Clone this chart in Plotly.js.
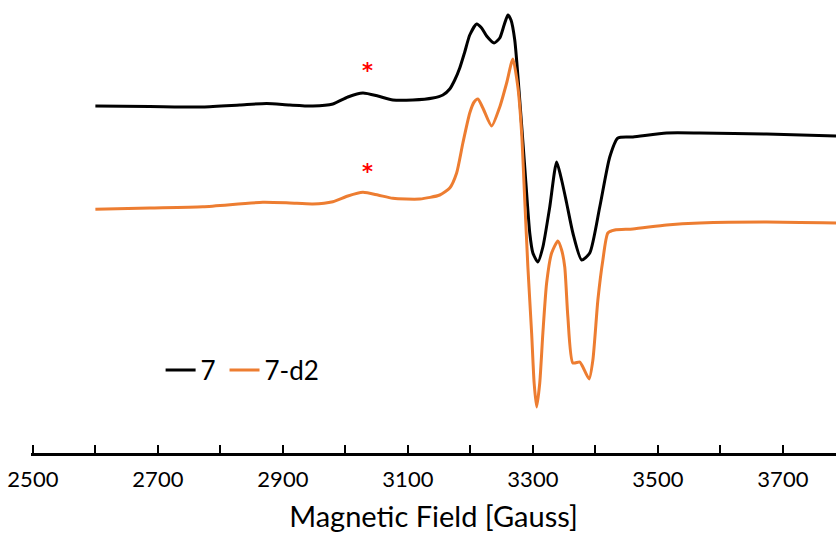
<!DOCTYPE html>
<html>
<head>
<meta charset="utf-8">
<script src="https://cdn.plot.ly/plotly-3.0.1.min.js"></script>
<style>html,body{margin:0;padding:0;background:#fff;}#chart{width:836px;height:533px;}</style>
</head>
<body>
<div id="chart"></div>
<script>
// Magnetic field (Gauss) and EPR signal (arbitrary units, offset traces)
const field7 = [2600,2687,2772,2831,2874,2911,2948,2980,3004,3028,3052,3076,3108,3140,3156,3167,3175,3183,3191,3199,3210,3218,3226,3238,3247,3254,3260,3265,3271,3279,3287,3295,3300,3308,3316,3327,3338,3346,3354,3364,3378,3391,3407,3423,3436,3460,3514,3567,3674,3785];
const signal7 = [347,346.5,346,348,349.5,348,347,349,356,360,357,353,353,355,358,364,373,385,401,418,429,425,417,410,415,428,438,433,413,353,286,220,200,191,206,246,291,273,250,220,193,200,246,296,315,316,320,320,319,317];

const field7d2 = [2600,2687,2772,2868,2911,2948,2980,3004,3028,3052,3076,3119,3151,3167,3178,3188,3199,3206,3212,3220,3234,3247,3258,3268,3276,3282,3287,3292,3298,3302,3306,3311,3316,3322,3330,3340,3346,3351,3356,3364,3375,3380,3390,3396,3404,3412,3420,3431,3460,3514,3567,3674,3785];
const signal7d2 = [243.7,245,246.3,250.7,250,249,251.3,257,260.7,258,254.7,254,258,265,280,310,340,351,354,345,327,346,370,394,366,320,253,186,120,70,46,70,120,170,200,212,203,186,136,90,91,86,74,93,153,193,220,223,224,228,230,231,230];

const seriesNames = ['7', '7-d2'];
const xTickVals = [2500,2700,2900,3100,3300,3500,3700];
const xTickText = ['2500','2700','2900','3100','3300','3500','3700'];
const asteriskField = [3036, 3036];
const asteriskSignal = [382, 281];

const FONT = 'Lato, "Open Sans", sans-serif';
const X_RANGE = [2497, 3785];

const traces = [
  {x: field7, y: signal7, name: seriesNames[0], type: 'scatter', mode: 'lines', legend: 'legend',
   line: {color: '#000000', width: 3, shape: 'spline', smoothing: 0.6}},
  {x: field7d2, y: signal7d2, name: seriesNames[1], type: 'scatter', mode: 'lines', legend: 'legend2',
   line: {color: '#ED7D31', width: 3, shape: 'spline', smoothing: 0.6}},
  // empty carrier so the labelled axis is drawn
  {x: [], y: [], xaxis: 'x2', yaxis: 'y', type: 'scatter', mode: 'lines', showlegend: false, hoverinfo: 'skip'}
];

const legendBase = {orientation: 'h', y: 0.183, xanchor: 'left', yanchor: 'middle',
  font: {family: FONT, size: 26, color: '#000'}, bgcolor: 'rgba(0,0,0,0)'};

const layout = {
  width: 836, height: 533,
  margin: {l: 31, r: 0, t: 0, b: 80},
  paper_bgcolor: '#ffffff', plot_bgcolor: '#ffffff',
  font: {family: FONT, color: '#000'},
  showlegend: true,
  legend: Object.assign({}, legendBase, {x: 0.161}),
  legend2: Object.assign({}, legendBase, {x: 0.2404}),
  xaxis: {
    range: X_RANGE, showgrid: false, zeroline: false,
    showline: true, linecolor: '#000', linewidth: 2.5,
    tickmode: 'linear', tick0: 2500, dtick: 100,
    ticks: 'inside', ticklen: 8, tickwidth: 2, tickcolor: '#000',
    showticklabels: false,
    fixedrange: true
  },
  xaxis2: {
    overlaying: 'x', anchor: 'y', side: 'bottom',
    range: X_RANGE, showgrid: false, zeroline: false, showline: false,
    tickmode: 'array', tickvals: xTickVals, ticktext: xTickText,
    ticks: '', showticklabels: true,
    tickfont: {family: FONT, size: 22, color: '#000'},
    ticklabelstandoff: 11,
    title: {text: 'Magnetic Field [Gauss]', font: {family: FONT, size: 29, color: '#000'}, standoff: 25},
    fixedrange: true
  },
  yaxis: {range: [0, 453], visible: false, showgrid: false, zeroline: false, fixedrange: true},
  annotations: asteriskField.map((f, i) => ({
    x: f, y: asteriskSignal[i], xref: 'x', yref: 'y', text: '<b>*</b>', showarrow: false,
    font: {family: 'DejaVu Sans', size: 21, color: '#FF0000'}
  }))
};

Plotly.newPlot('chart', traces, layout, {displayModeBar: false, staticPlot: true});
</script>
</body>
</html>
